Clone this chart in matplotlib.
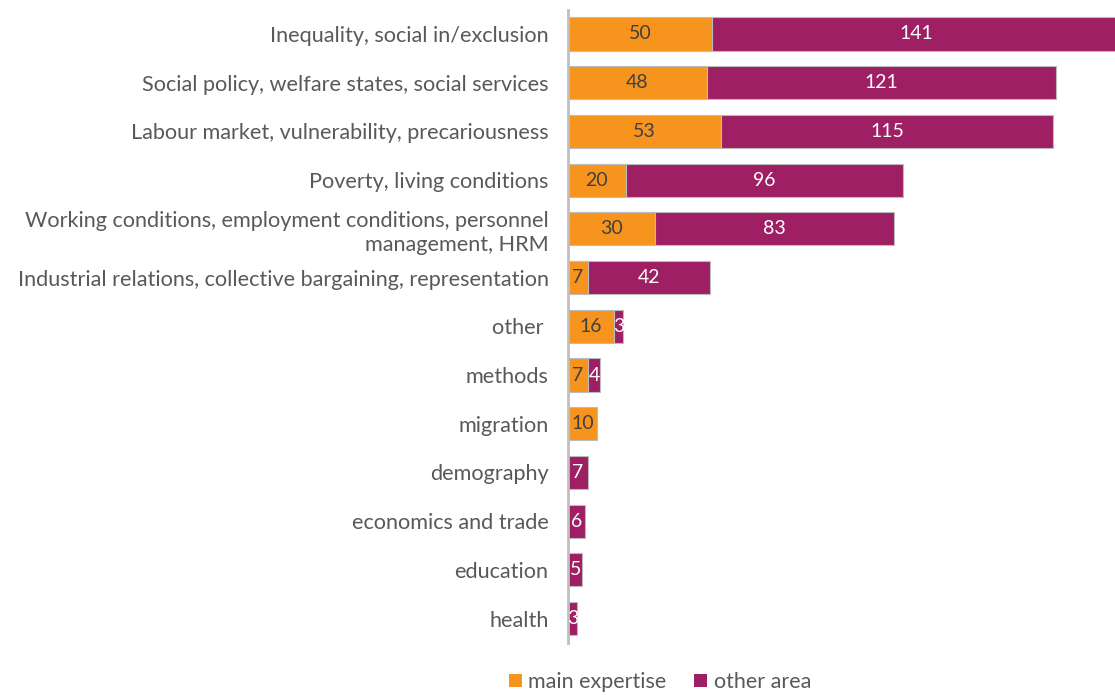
import numpy as np
import matplotlib
matplotlib.use("Agg")
from matplotlib import pyplot as plt
from matplotlib.patches import Patch

# research topics and counts per type of expertise
topics = [
    "Inequality, social in/exclusion",
    "Social policy, welfare states, social services",
    "Labour market, vulnerability, precariousness",
    "Poverty, living conditions",
    "Working conditions, employment conditions, personnel\nmanagement, HRM",
    "Industrial relations, collective bargaining, representation",
    "other ",
    "methods",
    "migration",
    "demography",
    "economics and trade",
    "education",
    "health",
]
main_expertise = [50, 48, 53, 20, 30, 7, 16, 7, 10, 0, 0, 0, 0]
other_area = [141, 121, 115, 96, 83, 42, 3, 4, 0, 7, 6, 5, 3]

ORANGE = "#F7941D"
PURPLE = "#9E1F63"
GREY_TXT = "#595959"

plt.rcParams["font.family"] = ["Lato", "DejaVu Sans"]

fig = plt.figure(figsize=(11.15, 6.95), dpi=100)
ax = fig.add_axes([568 / 1115, 1 - 643 / 695, 1 - 568 / 1115, (643 - 9.6) / 695])

y = np.arange(len(topics))
main = np.array(main_expertise)
other = np.array(other_area)

ax.barh(y, main, height=0.68, color=ORANGE, edgecolor="#BBBBBB", linewidth=0.8)
ax.barh(y, other, left=main, height=0.68, color=PURPLE,
        edgecolor="#BBBBBB", linewidth=0.8)

# value labels in the middle of each segment, zeros skipped
for i in range(len(topics)):
    if main[i] > 0:
        ax.text(main[i] / 2, y[i], str(main[i]), ha="center", va="center",
                fontsize=14, color="#404040")
    if other[i] > 0:
        ax.text(main[i] + other[i] / 2, y[i], str(other[i]), ha="center",
                va="center", fontsize=14, color="white")

ax.set_xlim(0, (1115 - 568) / 2.888)
ax.set_ylim(len(topics) - 0.5, -0.5)
ax.set_yticks(y)
ax.set_yticklabels(topics, fontsize=15.6, color=GREY_TXT, linespacing=1.25)
ax.tick_params(axis="y", length=0, pad=14)
ax.set_xticks([])

for side in ["top", "right", "bottom"]:
    ax.spines[side].set_visible(False)
ax.spines["left"].set_color("#BFBFBF")
ax.spines["left"].set_linewidth(2)

handles = [Patch(facecolor=ORANGE, label="main expertise"),
           Patch(facecolor=PURPLE, label="other area")]
fig.legend(handles=handles, loc="center", bbox_to_anchor=(660 / 1115, 1 - 682 / 695),
           ncol=2, frameon=False, fontsize=15.5, handlelength=0.6, handleheight=0.6,
           handletextpad=0.3, columnspacing=1.3, labelcolor=GREY_TXT)

plt.savefig("out.png", dpi=100)
plt.close()
